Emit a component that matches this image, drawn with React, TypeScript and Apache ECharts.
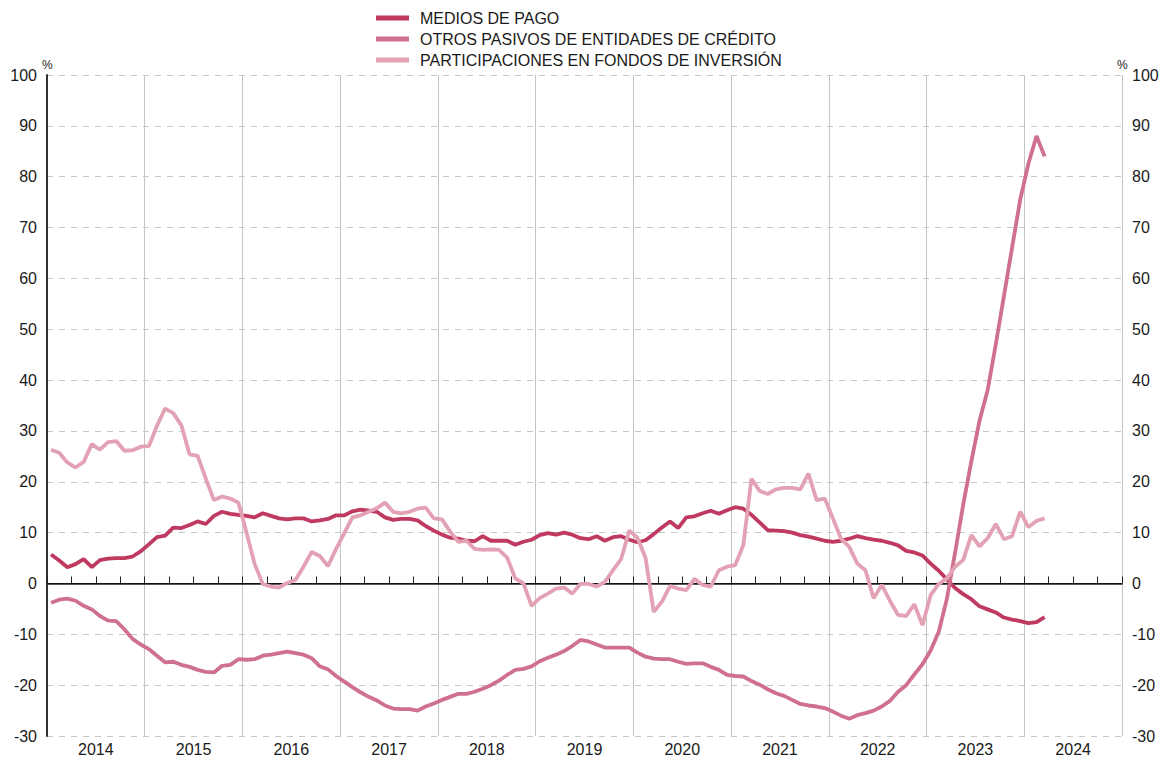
import React, { useEffect, useRef } from "react";
import * as echarts from "echarts";

// Monthly series, Jan 2014 .. Mar 2024 (123 months)
const startYear = 2014;
const yearLabels = ["2014", "2015", "2016", "2017", "2018", "2019", "2020", "2021", "2022", "2023", "2024"];
const unitLabel = "%";
const seriesNames = [
  "MEDIOS DE PAGO",
  "OTROS PASIVOS DE ENTIDADES DE CRÉDITO",
  "PARTICIPACIONES EN FONDOS DE INVERSIÓN",
];

const mediosDePago = [
  5.7, 4.5, 3.2, 3.8, 4.8, 3.2, 4.6, 4.9, 5.0, 5.0, 5.3, 6.3,
  7.7, 9.1, 9.4, 11.0, 10.9, 11.5, 12.2, 11.7, 13.3, 14.1, 13.7, 13.5,
  13.3, 13.0, 13.8, 13.3, 12.8, 12.6, 12.8, 12.8, 12.2, 12.4, 12.7, 13.4,
  13.4, 14.2, 14.5, 14.3, 14.1, 13.0, 12.5, 12.7, 12.7, 12.4, 11.3, 10.4,
  9.6, 9.0, 8.8, 8.4, 8.3, 9.3, 8.4, 8.4, 8.4, 7.6, 8.2, 8.6,
  9.5, 9.9, 9.6, 10.0, 9.6, 8.9, 8.7, 9.3, 8.4, 9.1, 9.3, 8.6,
  8.1, 8.5, 9.7, 11.0, 12.2, 10.9, 13.0, 13.2, 13.8, 14.3, 13.7, 14.4,
  15.0, 14.7, 13.5, 12.0, 10.5, 10.4, 10.3, 10.0, 9.5, 9.2, 8.8, 8.4,
  8.2, 8.4, 8.8, 9.3, 8.9, 8.6, 8.4, 8.0, 7.5, 6.4, 6.1, 5.5,
  3.9, 2.5, 0.8, -0.9, -2.1, -3.1, -4.5, -5.1, -5.7, -6.7, -7.1, -7.4,
  -7.8, -7.6, -6.6,
];

const otrosPasivos = [
  -3.8, -3.2, -3.0, -3.4, -4.4, -5.1, -6.4, -7.3, -7.4, -9.0, -10.9, -12.0,
  -12.9, -14.2, -15.5, -15.4, -16.0, -16.4, -17.0, -17.4, -17.5, -16.2, -16.0, -14.9,
  -15.0, -14.9, -14.2, -14.0, -13.7, -13.4, -13.7, -14.0, -14.7, -16.3, -16.9, -18.2,
  -19.3, -20.4, -21.4, -22.3, -23.0, -24.0, -24.6, -24.7, -24.7, -25.0, -24.2, -23.6,
  -22.9, -22.3, -21.7, -21.7, -21.3, -20.7, -20.0, -19.1, -18.0, -17.0, -16.8, -16.3,
  -15.3, -14.6, -14.0, -13.3, -12.3, -11.1, -11.4, -12.0, -12.6, -12.6, -12.6, -12.6,
  -13.6, -14.4, -14.8, -14.9, -14.9, -15.4, -15.8, -15.7, -15.7, -16.4, -17.0, -18.0,
  -18.2, -18.3, -19.2, -19.9, -20.8, -21.6, -22.1, -22.9, -23.7, -24.0, -24.2, -24.5,
  -25.2, -26.0, -26.6, -25.9, -25.5, -25.0, -24.2, -23.1, -21.3, -20.0, -17.9, -15.9,
  -13.2, -9.5, -3.0, 6.0, 15.5, 24.0, 32.0, 38.0, 47.0, 56.5, 66.0, 75.5,
  82.5, 88.0, 84.0,
];

const participaciones = [
  26.3, 25.7, 23.8, 22.8, 23.9, 27.4, 26.3, 27.8, 28.0, 26.1, 26.2, 26.9,
  27.0, 31.0, 34.4, 33.5, 31.1, 25.4, 25.1, 20.6, 16.4, 17.1, 16.7, 15.9,
  10.0, 3.8, -0.1, -0.6, -0.8, 0.1, 0.7, 3.3, 6.2, 5.4, 3.4, 6.8,
  9.9, 13.0, 13.4, 14.1, 14.8, 15.9, 14.1, 13.8, 14.1, 14.7, 14.9, 12.8,
  12.6, 10.2, 8.2, 8.4, 6.8, 6.6, 6.7, 6.6, 5.1, 1.0, 0.0, -4.4,
  -2.9, -2.0, -1.0, -0.8, -2.0, -0.1, -0.1, -0.6, 0.3, 2.6, 4.8, 10.4,
  9.0, 5.0, -5.6, -3.6, -0.5, -1.0, -1.3, 0.9, -0.3, -0.6, 2.6, 3.3,
  3.6, 7.5, 20.6, 18.2, 17.6, 18.5, 18.8, 18.8, 18.5, 21.6, 16.4, 16.7,
  12.8, 8.8, 7.2, 3.9, 2.6, -2.9, -0.3, -3.4, -6.2, -6.4, -4.1, -8.2,
  -2.3, -0.1, 1.0, 3.3, 4.6, 9.5, 7.3, 8.9, 11.7, 8.7, 9.3, 14.1,
  11.1, 12.3, 12.8,
];

const yTicks = { min: -30, max: 100, interval: 10 };
const colors = ["#bf3960", "#d0708f", "#e3a1b4"];
const FONT = "'Liberation Sans', Arial, Helvetica, sans-serif";

const toPoints = (arr: number[]) => arr.map((v, i) => [i + 0.5, v]);

export default function App() {
  const ref = useRef<HTMLDivElement>(null);

  useEffect(() => {
    if (!ref.current) return;
    const chart = echarts.init(ref.current, undefined, { renderer: "svg" });
    const months = yearLabels.length * 12;
    const lineSeries = [mediosDePago, otrosPasivos, participaciones].map((arr, k) => ({
      name: seriesNames[k],
      type: "line",
      data: toPoints(arr),
      xAxisIndex: 0,
      yAxisIndex: 0,
      showSymbol: false,
      symbol: "none",
      lineStyle: { color: colors[k], width: 3.8 },
      itemStyle: { color: colors[k] },
      z: 3 + k,
      markLine:
        k === 0
          ? {
              silent: true,
              symbol: "none",
              label: { show: false },
              lineStyle: { color: "#111", width: 1, type: "solid" },
              data: [{ yAxis: 0 }],
              z: 2,
            }
          : undefined,
    }));

    chart.setOption({
      animation: false,
      backgroundColor: "#fff",
      textStyle: { fontFamily: FONT },
      legend: {
        orient: "vertical",
        left: 371,
        top: 5,
        itemWidth: 33,
        itemHeight: 5,
        itemGap: 5,
        icon: "rect",
        textStyle: { fontFamily: FONT, fontSize: 16, color: "#1a1a1a", padding: [0, 0, 0, 6] },
        data: seriesNames,
      },
      graphic: [
        {
          type: "text",
          left: 42,
          top: 59,
          silent: true,
          style: { text: unitLabel, fontSize: 12, fill: "#1a1a1a", fontFamily: FONT },
        },
        {
          type: "text",
          left: 1117,
          top: 59,
          silent: true,
          style: { text: unitLabel, fontSize: 12, fill: "#1a1a1a", fontFamily: FONT },
        },
      ],
      grid: { left: 47, right: 41, top: 75, bottom: 20, containLabel: false },
      xAxis: [
        {
          type: "value",
          min: 0,
          max: months,
          interval: 3,
          position: "bottom",
          axisLine: { show: true, lineStyle: { color: "#222", width: 1.5 } },
          axisTick: { show: true, inside: true, length: 7, lineStyle: { color: "#222", width: 1 } },
          axisLabel: {
            show: true,
            fontSize: 16,
            color: "#1a1a1a",
            fontFamily: FONT,
            margin: 5,
            formatter: (v: number) => (v % 12 === 6 ? String(startYear + (v - 6) / 12) : ""),
          },
          splitLine: { show: false },
        },
        {
          type: "value",
          min: 0,
          max: months,
          interval: 12,
          position: "top",
          axisLine: { show: false },
          axisTick: { show: false },
          axisLabel: { show: false },
          splitLine: { show: true, lineStyle: { color: "#c4c4c4", width: 1, type: "solid" } },
        },
      ],
      yAxis: [
        {
          type: "value",
          position: "left",
          ...yTicks,
          axisLine: { show: true, lineStyle: { color: "#666", width: 2 } },
          axisTick: { show: false },
          axisLabel: { fontSize: 16, color: "#1a1a1a", fontFamily: FONT, margin: 10 },
          splitLine: { show: true, lineStyle: { color: "#c8c8c8", width: 1, type: [6, 6] } },
        },
        {
          type: "value",
          position: "right",
          ...yTicks,
          axisLine: { show: true, lineStyle: { color: "#222", width: 1.5 } },
          axisTick: { show: false },
          axisLabel: { fontSize: 16, color: "#1a1a1a", fontFamily: FONT, margin: 10 },
          splitLine: { show: false },
        },
      ],
      series: lineSeries,
    });

    return () => chart.dispose();
  }, []);

  return (
    <div
      ref={ref}
      style={{ position: "absolute", left: 0, top: 0, width: 1163, height: 757, background: "#fff" }}
    />
  );
}
